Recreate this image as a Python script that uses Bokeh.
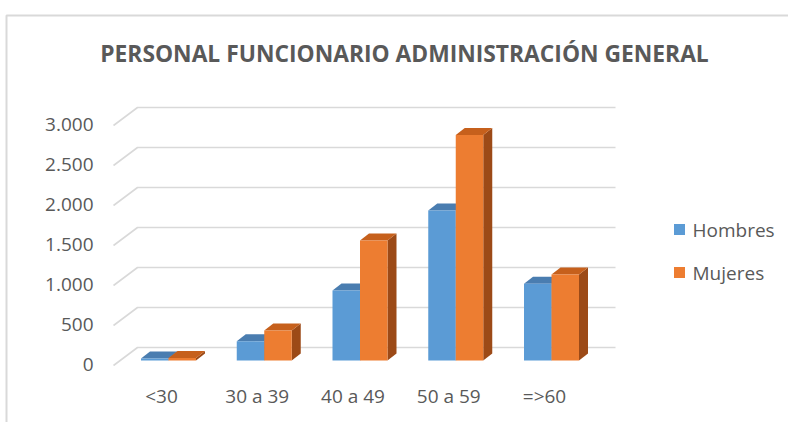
from bokeh.plotting import figure
from bokeh.embed import file_html
from bokeh.resources import INLINE
from bokeh.core.properties import value
from bokeh.models import Range1d

# ---- data ----
categories = ["<30", "30 a 39", "40 a 49", "50 a 59", "=>60"]
hombres = [25, 240, 875, 1875, 960]
mujeres = [30, 375, 1500, 2820, 1075]
y_ticks = [0, 500, 1000, 1500, 2000, 2500, 3000]
series_names = ["Hombres", "Mujeres"]
title_text = "PERSONAL FUNCIONARIO ADMINISTRACIÓN GENERAL"

# ---- layout / style ----
W, H = 788, 422
PX = 95.75          # px per category
PY = 0.08           # px per value unit
X0 = -168 / PX      # data x at left canvas edge (category 0 at px 168)
Y0 = -(H - 360) / PY  # value 0 (bar bottom) at px 360 from top

def sx(px):
    return X0 + px / PX

def sy(py_top):
    return Y0 + (H - py_top) / PY

BAR_W = 27.5 / PX
DX = 9 / PX
DY = 7 / PY
GRID_FRONT = -5 / PY
GRID_BACK = 13 / PY
FONT = value("Open Sans")
TXT = "#595959"
GRID = "#D9D9D9"

front_cols = ["#5B9BD5", "#ED7D31"]
top_cols = ["#4A7DB0", "#C6601C"]
side_cols = ["#3A6590", "#9C4A17"]

p = figure(width=W, height=H, output_backend="svg", toolbar_location=None,
           x_range=Range1d(X0, X0 + W / PX), y_range=Range1d(Y0, Y0 + H / PY),
           min_border=0)
p.axis.visible = False
p.grid.visible = False
p.outline_line_color = None
p.background_fill_color = "white"

# chart border (top + left)
p.line([sx(6), sx(6), sx(W + 5)], [sy(H + 5), sy(15), sy(15)], line_color=GRID, line_width=2)

# gridlines with 3D diagonal
xs, ys = [], []
for t in y_ticks:
    xs.append([sx(113), sx(137), sx(615)])
    ys.append([t + GRID_FRONT, t + GRID_BACK, t + GRID_BACK])
p.multi_line(xs, ys, line_color=GRID, line_width=1.6)

# tick labels
p.text(x=[sx(93)] * len(y_ticks), y=[t + GRID_FRONT + 12 for t in y_ticks],
       text=[f"{t:,}".replace(",", ".") for t in y_ticks],
       text_align="right", text_baseline="middle", text_font=FONT,
       text_font_size="19px", text_color=TXT)

# 3D bars
for i in range(len(categories)):
    for s, vals in enumerate([hombres, mujeres]):
        v = vals[i]
        l = i - BAR_W + s * BAR_W
        r = l + BAR_W
        p.patch([r, r, r + DX, r + DX], [0, v, v + DY, DY], fill_color=side_cols[s], line_color=None)
        p.patch([l, r, r + DX, l + DX], [v, v, v + DY, v + DY], fill_color=top_cols[s], line_color=None)
        p.quad(left=[l], right=[r], bottom=[0], top=[v], fill_color=front_cols[s], line_color=None)

# category labels
p.text(x=[i - 7 / PX for i in range(len(categories))], y=[sy(395)] * len(categories),
       text=categories, text_align="center", text_baseline="middle",
       text_font=FONT, text_font_size="19px", text_color=TXT)

# legend
p.rect(x=[sx(679)] * 2, y=[sy(229), sy(272)], width=11, height=11, width_units="screen",
       height_units="screen", fill_color=front_cols, line_color=None)
p.text(x=[sx(692)] * 2, y=[sy(229), sy(272)], text=series_names,
       text_align="left", text_baseline="middle", text_font=FONT,
       text_font_size="19px", text_color=TXT)

# title
p.text(x=[sx(404)], y=[sy(53)], text=[title_text], text_align="center",
       text_baseline="middle", text_font=FONT, text_font_size="22.8px",
       text_font_style="bold", text_color=TXT)

open("out.html", "w").write(file_html(p, INLINE))
